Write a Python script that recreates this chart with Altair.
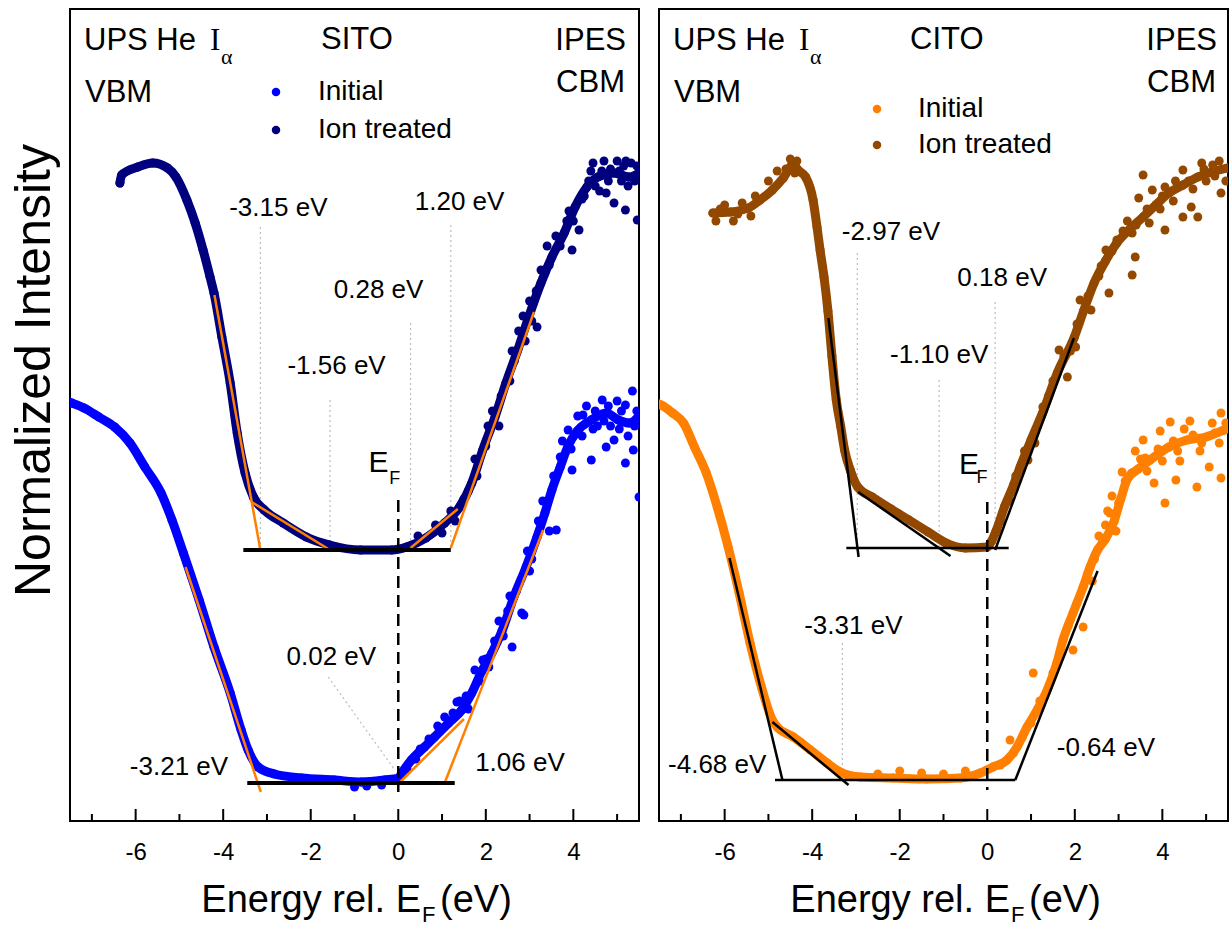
import altair as alt
import pandas as pd

SANS = "Liberation Sans"
SERIF = "Liberation Serif"

X_DOMAIN = [-7.5, 5.5]
Y_DOMAIN = [0, 812]
PANEL_W = 569
PANEL_H = 812

X_LABEL_VALUES = [-6, -4, -2, 0, 2, 4]
MAJOR_TICKS = [-6, -4, -2, 0, 2, 4]
MINOR_TICKS = [-7, -5, -3, -1, 1, 3, 5]
SERIES_NAMES = ["Initial", "Ion treated"]

# ---------------- SITO ----------------
SITO_INIT_E = [-7.53, -7.46, -7.18, -6.84, -6.48, -6.13, -5.79, -5.42, -5.17, -4.91,
               -4.55, -4.21, -3.84, -3.59, -3.43, -3.20, -2.83, -2.21, -1.46, -0.84,
               -0.31, 0.01, 0.08, 0.30, 0.60, 0.83, 1.15, 1.45, 1.68, 1.91,
               2.14, 2.37, 2.64, 2.92, 3.17, 3.35, 3.51, 3.70, 3.88, 4.09,
               4.41, 4.75, 5.03, 5.28, 5.50]
SITO_INIT_I = [419, 418, 413, 404, 394, 378, 354, 328, 301, 268,
               221, 174, 128, 91, 71, 54, 47, 43, 41, 39,
               41, 43, 48, 61, 74, 84, 98, 111, 128, 150,
               168, 190, 224, 254, 284, 308, 331, 354, 375, 390,
               401, 408, 401, 398, 405]
SITO_INIT_SCATTER_E = [4.66, 5.19, 4.22, 3.88, 3.70, 4.41, 5.37, 5.19, 5.50, 3.61,
                       2.82, 2.60, 1.93, 3.97, 4.75, 4.93, 1.06, -1.00, -0.72, -0.38,
                       1.34, 2.87, 2.07, 1.75, 4.55, 5.00, 5.35, 4.30, 3.30, 3.00,
                       2.50, 0.50, 0.90, 1.60, 2.30, 3.45, 4.85,
                       0.20, 0.40, 0.70, 1.00, 1.25, 1.40, 1.55, 1.85, 2.00, 2.20,
                       2.40, 2.55, 2.70, 2.95, 3.05, 3.20, 3.40, 3.55, 3.75, 3.95,
                       4.10, 4.20, 4.45, 4.50, 4.70, 4.80, 5.05, 5.10, 5.25, 5.45, 5.40]
SITO_INIT_SCATTER_I = [421, 416, 406, 391, 364, 361, 371, 358, 324, 291,
                       208, 174, 161, 351, 374, 381, 104, 34, 35, 36,
                       119, 206, 154, 151, 395, 420, 430, 415, 320, 250,
                       210, 72, 95, 112, 200, 290, 395,
                       52, 62, 82, 92, 108, 120, 125, 140, 162, 180,
                       185, 225, 230, 270, 262, 300, 318, 345, 380, 372,
                       405, 385, 392, 410, 400, 415, 392, 410, 385, 410, 395]

SITO_ION_E = [-6.36, -6.32, -5.95, -5.61, -5.27, -5.08, -4.83, -4.64, -4.46, -4.30,
              -4.21, -4.03, -3.84, -3.68, -3.50, -3.31, -3.06, -2.63, -2.10, -1.57,
              -0.86, -0.15, 0.19, 0.63, 1.06, 1.40, 1.68, 1.93, 2.21, 2.46,
              2.73, 2.98, 3.26, 3.51, 3.79, 4.04, 4.31, 4.56, 4.93, 5.27, 5.50]
SITO_ION_I = [638, 646, 654, 658, 653, 644, 621, 598, 571, 544,
              528, 484, 438, 388, 348, 324, 311, 298, 284, 276,
              271, 271, 274, 283, 298, 314, 338, 371, 404, 438,
              471, 504, 538, 564, 588, 614, 634, 644, 648, 644, 648]
SITO_ION_SCATTER_E = [5.32, 5.46, 4.13, 3.97, 3.26, 3.17, 4.93, 5.19, 4.75, 2.60,
                      2.90, 3.40, 3.60, 4.40, 4.70, 5.00, 5.10, 4.20, 1.80, 2.05,
                      3.00, 1.20, 1.50, 2.35, 3.85, 5.40, 4.60, 4.85, 2.75,
                      0.45, 0.85, 1.00, 1.30, 1.60, 1.75, 2.00, 2.15, 2.30, 2.55,
                      2.65, 2.85, 3.05, 3.15, 3.35, 3.45, 3.70, 3.90, 4.00, 4.25,
                      4.35, 4.50, 4.65, 4.80, 5.05, 5.15, 5.25, 5.45, 4.45, 5.20]
SITO_ION_SCATTER_I = [658, 601, 591, 571, 551, 494, 618, 611, 628, 470,
                      480, 575, 585, 650, 660, 660, 640, 622, 345, 395,
                      520, 310, 322, 425, 600, 640, 630, 652, 490,
                      285, 296, 288, 300, 330, 362, 375, 410, 395, 440,
                      460, 505, 500, 530, 548, 556, 575, 610, 600, 625,
                      640, 635, 650, 640, 650, 655, 635, 655, 658, 660]

# onset fits: (E1, I1, E2, I2)
SITO_FITS = [(-4.20, 526, -3.15, 271), (-3.35, 319, -1.56, 271),
             (0.28, 273, 1.36, 312), (1.20, 273, 3.10, 509),
             (-4.86, 254, -3.14, 29), (0.02, 38, 1.50, 102),
             (1.06, 38, 3.31, 291)]
# background levels: (E start, E end, I)
SITO_BASES = [(-3.54, 1.20, 271), (-3.45, 1.29, 38)]
SITO_GUIDE_E = [-3.15, -1.56, 0.28, 1.20]
SITO_GUIDE_TOP = [594, 421, 498, 596]
SITO_GUIDE_BOTTOM = [271, 271, 271, 271]
SITO_LEADERS = [(-1.60, 144, -0.08, 51)]
SITO_VALUE_LABELS = ["-3.15 eV", "1.20 eV", "0.28 eV", "-1.56 eV", "0.02 eV", "-3.21 eV", "1.06 eV"]
SITO_VALUE_E = [-2.74, 1.40, -0.45, -1.41, -1.53, -5.01, 2.78]
SITO_VALUE_I = [613, 619, 531, 455, 164, 54, 58]
SITO_EF = (0, 321, 29)
SITO_EF_TEXT = [("E", -0.45, 358, 30), ("F", -0.08, 342, 18)]

# ---------------- CITO ----------------
CITO_INIT_E = [-7.52, -7.45, -7.19, -6.94, -6.69, -6.42, -6.17, -5.92, -5.67, -5.42,
               -5.16, -4.91, -4.80, -4.43, -4.04, -3.66, -3.36, -2.90, -2.15, -1.38,
               -0.61, -0.16, 0.13, 0.45, 0.68, 0.91, 1.14, 1.37, 1.59, 1.73,
               1.96, 2.19, 2.35, 2.52, 2.70, 2.90, 3.05, 3.20, 3.45, 3.72,
               4.15, 4.56, 5.00, 5.41, 5.52]
CITO_INIT_I = [417, 416, 408, 398, 374, 348, 314, 274, 228, 178,
               134, 101, 94, 84, 71, 58, 49, 44, 43, 42,
               43, 48, 54, 61, 74, 94, 111, 131, 158, 181,
               208, 234, 254, 271, 282, 300, 322, 342, 352, 361,
               374, 381, 384, 391, 393]
CITO_INIT_SCATTER_E = [0.52, 1.05, 1.96, 2.19, 3.08, 4.06, 4.79, 5.34, 5.14, 4.18,
                       3.56, 3.61, 3.81, 4.31, 5.07, 5.34, 2.63, 2.94, 2.85, 3.38,
                       3.95, 4.63, 4.86, 4.40, -2.50, -2.00, -1.50, -1.00, -0.50, 2.45, 2.75,
                       0.30, 0.60, 0.80, 1.00, 1.20, 1.30, 1.50, 1.65, 1.85, 2.05,
                       2.30, 2.40, 2.55, 2.70, 2.80, 3.00, 3.15, 3.30, 3.50, 3.65,
                       3.90, 4.00, 4.25, 4.35, 4.70, 4.90, 5.20, 5.30, 5.45, 4.50]
CITO_INIT_SCATTER_I = [81, 148, 171, 194, 349, 318, 334, 408, 398, 399,
                       381, 363, 338, 341, 354, 343, 281, 290, 325, 370,
                       390, 400, 370, 360, 47, 50, 48, 47, 50, 262, 310,
                       56, 68, 84, 98, 120, 124, 148, 165, 195, 218,
                       248, 240, 285, 296, 308, 318, 340, 348, 362, 350,
                       372, 360, 380, 370, 386, 378, 388, 378, 398, 392]

CITO_ION_E = [-6.27, -5.87, -5.46, -5.19, -4.91, -4.66, -4.44, -4.30, -4.15, -3.98,
              -3.89, -3.82, -3.73, -3.64, -3.55, -3.45, -3.35, -3.26, -3.13, -2.96,
              -2.63, -2.20, -1.79, -1.35, -0.94, -0.50, 0.00, 0.10, 0.20, 0.40,
              0.60, 0.75, 1.00, 1.28, 1.60, 1.99, 2.20, 2.44, 2.70, 2.96,
              3.26, 3.56, 3.85, 4.15, 4.47, 4.81, 5.13, 5.50]
CITO_ION_I = [608, 609, 613, 621, 631, 643, 656, 650, 644, 621,
              594, 571, 544, 510, 465, 421, 395, 371, 351, 334,
              324, 312, 301, 289, 278, 273, 274, 280, 290, 315,
              336, 354, 381, 410, 448, 484, 510, 538, 560, 578,
              592, 604, 616, 628, 636, 644, 649, 653]
CITO_ION_SCATTER_E = [3.56, 3.46, 3.77, 4.47, 4.90, 5.15, 5.34, 4.81, 4.47, 4.06,
                      3.31, 3.38, 3.31, 2.78, 2.12, 2.37, 2.02, 1.64, 1.83, 1.27,
                      1.09, 0.93, 0.75, 2.71, 2.96, 4.06, 4.66,
                      -6.20, -6.00, -5.80, -5.60, -5.40, -5.30, -5.00, -4.80, -4.60,
                      -4.50, -4.40, -4.35, -6.10, -5.70,
                      0.30, 0.50, 0.65, 0.85, 1.15, 1.40, 1.50, 1.75, 1.90, 2.05,
                      2.30, 2.55, 2.60, 2.85, 3.10, 3.20, 3.40, 3.65, 3.95, 4.00,
                      4.25, 4.30, 4.60, 4.70, 5.00, 5.20, 5.30, 5.45, 4.95, 3.70]
CITO_ION_SCATTER_I = [646, 623, 631, 651, 658, 656, 628, 604, 604, 591,
                      588, 564, 546, 528, 521, 511, 474, 471, 444, 414,
                      378, 361, 351, 571, 581, 634, 614,
                      600, 616, 600, 618, 605, 625, 640, 650, 652,
                      662, 648, 660, 612, 607,
                      300, 320, 345, 370, 395, 425, 440, 465, 470, 497,
                      525, 545, 555, 570, 590, 600, 596, 612, 612, 625,
                      620, 640, 640, 632, 640, 645, 660, 640, 652, 598]

CITO_FITS = [(-3.63, 503, -2.94, 264), (-2.95, 329, -0.84, 265),
             (0.18, 271, 1.98, 483),
             (-5.89, 263, -4.68, 41), (-4.91, 99, -3.17, 36),
             (0.64, 41, 2.52, 250)]
CITO_BASES = [(-3.22, 0.49, 273), (-4.85, 0.64, 41)]
CITO_GUIDE_E = [-2.97, -1.10, 0.18, -3.31]
CITO_GUIDE_TOP = [568, 441, 519, 178]
CITO_GUIDE_BOTTOM = [273, 273, 273, 41]
CITO_LEADERS = []
CITO_VALUE_LABELS = ["-2.97 eV", "0.18 eV", "-1.10 eV", "-3.31 eV", "-4.68 eV", "-0.64 eV"]
CITO_VALUE_E = [-2.20, 0.34, -1.10, -3.06, -6.17, 2.71]
CITO_VALUE_I = [589, 543, 466, 195, 56, 73]
CITO_EF = (0, 319, 31)
CITO_EF_TEXT = [("E", -0.42, 356, 30), ("F", -0.12, 343, 18)]

SITO_COLORS = ["#0000ff", "#00007f"]
CITO_COLORS = ["#ff8000", "#934800"]

ONE_ROW = pd.DataFrame({"k": [0]})
XS = alt.Scale(domain=X_DOMAIN, nice=False, zero=False)
YS = alt.Scale(domain=Y_DOMAIN, nice=False, zero=False)


def fixed_text(text, x, y, size, align="left", font=SANS):
    return alt.Chart(ONE_ROW).mark_text(
        text=text, font=font, fontSize=size, align=align,
        baseline="alphabetic", color="black"
    ).encode(x=alt.value(x), y=alt.value(y))


def segs(rows):
    return pd.DataFrame(rows, columns=["x", "y", "x2", "y2"])


def make_panel(name, colors, init, ion, fits, fit_color, fit_width, bases, base_width,
               guides, leaders, values, ef, ef_text, legend_xy, right_edge, y_axis):
    x_axis = alt.Axis(values=X_LABEL_VALUES, labelExpr="toString(datum.value)", title=None,
                      ticks=False, domain=False, grid=False, labelFont=SANS, labelFontSize=24,
                      labelColor="black", labelPadding=19, labelFlush=False)

    def X(field):
        return alt.X(f"{field}:Q", scale=XS, axis=x_axis)

    def Y(field):
        return alt.Y(f"{field}:Q", scale=YS, axis=y_axis)

    guide_df = pd.DataFrame({"x": guides[0], "y": guides[1], "y2": guides[2]})
    layers = [alt.Chart(guide_df).mark_rule(
        color="#bdbdbd", strokeWidth=1.2, strokeDash=[2, 3]
    ).encode(x=X("x"), y=Y("y"), y2="y2:Q")]
    if leaders:
        layers.append(alt.Chart(segs(leaders)).mark_rule(
            color="#bdbdbd", strokeWidth=1.2, strokeDash=[2, 3]
        ).encode(x=X("x"), y=Y("y"), x2="x2:Q", y2="y2:Q"))

    # dense spectra drawn as a thick band, one per sample
    for series, col in zip((init, ion), colors):
        band_df = pd.DataFrame({"E": series[0], "I": series[1]})
        layers.append(alt.Chart(band_df).mark_line(
            color=col, strokeWidth=9, strokeCap="round", strokeJoin="round",
            interpolate="monotone", clip=True
        ).encode(x=X("E"), y=Y("I")))

    dots = pd.concat([
        pd.DataFrame({"E": init[0] + init[2], "I": init[1] + init[3], "sample": "Initial"}),
        pd.DataFrame({"E": ion[0] + ion[2], "I": ion[1] + ion[3], "sample": "Ion treated"}),
    ])
    cscale = alt.Scale(domain=SERIES_NAMES, range=colors)
    layers.append(alt.Chart(dots).mark_circle(size=80, opacity=1, clip=True).encode(
        x=X("E"), y=Y("I"),
        color=alt.Color("sample:N", scale=cscale, legend=alt.Legend(
            orient="none", legendX=legend_xy[0], legendY=legend_xy[1], title=None,
            labelFont=SANS, labelFontSize=28, labelColor="black", symbolType="circle",
            symbolSize=72, symbolStrokeWidth=0, labelOffset=legend_xy[2],
            rowPadding=legend_xy[3], padding=0)),
    ))

    layers.append(alt.Chart(segs(fits)).mark_rule(color=fit_color, strokeWidth=fit_width).encode(
        x=X("x"), y=Y("y"), x2="x2:Q", y2="y2:Q"))
    base_df = pd.DataFrame(bases, columns=["x", "x2", "y"])
    layers.append(alt.Chart(base_df).mark_rule(color="black", strokeWidth=base_width).encode(
        x=X("x"), x2="x2:Q", y=Y("y")))
    ef_df = pd.DataFrame({"x": [ef[0]], "y": [ef[1]], "y2": [ef[2]]})
    layers.append(alt.Chart(ef_df).mark_rule(color="black", strokeWidth=2.5, strokeDash=[12, 7]).encode(
        x=X("x"), y=Y("y"), y2="y2:Q"))

    val_df = pd.DataFrame({"E": values[0], "I": values[1], "label": values[2]})
    layers.append(alt.Chart(val_df).mark_text(
        font=SANS, fontSize=26, align="center", baseline="middle", color="black"
    ).encode(x=X("E"), y=Y("I"), text="label:N"))
    for txt, e, i, size in ef_text:
        layers.append(alt.Chart(pd.DataFrame({"E": [e], "I": [i]})).mark_text(
            text=txt, font=SANS, fontSize=size, align="center", baseline="middle", color="black"
        ).encode(x=X("E"), y=Y("I")))

    # inward ticks on the energy axis
    layers.append(alt.Chart(pd.DataFrame({"E": MAJOR_TICKS})).mark_rule(color="black", strokeWidth=2).encode(
        x=X("E"), y=alt.value(PANEL_H), y2=alt.value(PANEL_H - 12)))
    layers.append(alt.Chart(pd.DataFrame({"E": MINOR_TICKS})).mark_rule(color="black", strokeWidth=2).encode(
        x=X("E"), y=alt.value(PANEL_H), y2=alt.value(PANEL_H - 7)))

    # corner labels
    layers += [
        fixed_text("UPS He", 14, 41, 31),
        fixed_text("I", 140, 41, 31, font=SERIF),
        fixed_text("\u03b1", 151, 55, 22, font=SERIF),
        fixed_text("VBM", 15, 93, 31),
        fixed_text(name, 251, 40, 31),
        fixed_text("IPES", right_edge, 41, 31, align="right"),
        fixed_text("CBM", right_edge - 1, 83, 31, align="right"),
    ]
    # energy axis title with subscript
    layers += [
        fixed_text("Energy rel. E", 351, PANEL_H + 91, 38, align="right"),
        fixed_text("F", 352, PANEL_H + 101, 22),
        fixed_text("(eV)", 370, PANEL_H + 91, 38),
    ]
    return alt.layer(*layers).properties(width=PANEL_W, height=PANEL_H)


y_title_axis = alt.Axis(title="Normalized Intensity", labels=False, ticks=False, domain=False,
                        grid=False, titleFont=SANS, titleFontSize=50, titleFontWeight="normal",
                        titleColor="black", titleAngle=270, titleX=-21, titleY=361,
                        titleBaseline="alphabetic", titleAlign="center")

left = make_panel(
    "SITO", SITO_COLORS,
    (SITO_INIT_E, SITO_INIT_I, SITO_INIT_SCATTER_E, SITO_INIT_SCATTER_I),
    (SITO_ION_E, SITO_ION_I, SITO_ION_SCATTER_E, SITO_ION_SCATTER_I),
    SITO_FITS, "#ff8000", 2.5, SITO_BASES, 4,
    (SITO_GUIDE_E, SITO_GUIDE_TOP, SITO_GUIDE_BOTTOM), SITO_LEADERS,
    (SITO_VALUE_E, SITO_VALUE_I, SITO_VALUE_LABELS), SITO_EF, SITO_EF_TEXT,
    (192, 69, 28, 10), 556, y_title_axis,
)
right = make_panel(
    "CITO", CITO_COLORS,
    (CITO_INIT_E, CITO_INIT_I, CITO_INIT_SCATTER_E, CITO_INIT_SCATTER_I),
    (CITO_ION_E, CITO_ION_I, CITO_ION_SCATTER_E, CITO_ION_SCATTER_I),
    CITO_FITS, "black", 2.5, CITO_BASES, 2.5,
    (CITO_GUIDE_E, CITO_GUIDE_TOP, CITO_GUIDE_BOTTOM), CITO_LEADERS,
    (CITO_VALUE_E, CITO_VALUE_I, CITO_VALUE_LABELS), CITO_EF, CITO_EF_TEXT,
    (204, 86, 27, 8), 558, None,
)

chart = alt.hconcat(left, right, spacing=18).resolve_scale(
    color="independent"
).resolve_legend(color="independent").properties(
    padding={"left": 7, "top": 8, "right": 0, "bottom": 0},
    background="white",
).configure_view(stroke="black", strokeWidth=2).configure_axis(
    labelFont=SANS, labelFontSize=24, labelColor="black"
)

chart.save("out.html", embed_options={"renderer": "svg", "actions": False})
